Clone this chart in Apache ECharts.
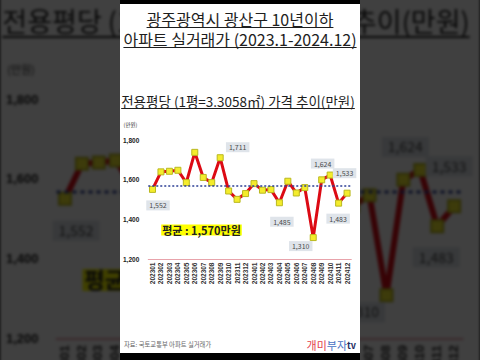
<!DOCTYPE html>
<html><head><meta charset="utf-8">
<script src="https://cdn.jsdelivr.net/npm/echarts@6/dist/echarts.min.js"></script>
<style>
html,body{margin:0;padding:0;width:480px;height:360px;overflow:hidden;background:#000;}
#bg{position:absolute;left:120px;top:4px;width:240px;height:349px;transform:scale(2);transform-origin:120px 176px;filter:blur(0.9px) brightness(0.25);}
#strip{position:absolute;left:120px;top:0;width:240px;height:360px;background:#000;}
#panel{position:absolute;left:120px;top:4px;width:240px;height:349px;background:#fff;}
</style></head><body>
<div id="bg"></div><div id="strip"></div><div id="panel"></div>
<script>
const titleLines = ['광주광역시 광산구 10년이하', '아파트 실거래가 (2023.1-2024.12)'];
const subtitle = '전용평당 (1평=3.3058㎡) 가격 추이(만원)';
const unitLabel = '(만원)';
const categories = ['202301','202302','202303','202304','202305','202306','202307','202308','202309','202310','202311','202312',
                    '202401','202402','202403','202404','202405','202406','202407','202408','202409','202410','202411','202412'];
const prices = [1552,1640,1643,1648,1586,1738,1612,1586,1711,1544,1502,1531,1581,1548,1551,1485,1593,1534,1561,1310,1600,1624,1483,1533];
const average = 1570;
const yMin = 1200, yMax = 1800, yStep = 200;
const avgLabelPrefix = '평균 : ';
const avgLabelSuffix = '만원';
const sourceText = '자료: 국토교통부 아파트 실거래가';
const logoParts = ['개미', '부자', 'tv'];

// style: label offsets (px) for annotated points, by index
const labelOffsets = {0:[6,16.5], 8:[18,-10], 15:[3,19.5], 19:[-12,9], 21:[-7,-11], 22:[0,16], 23:[-2,-19.5]};

const FONT = '"Noto Sans CJK KR","Noto Sans",sans-serif';
const fmt = v => Number(v).toLocaleString('en-US');

function textWidth(t, size, weight) {
  const c = document.createElement('canvas').getContext('2d');
  c.font = (weight || 'normal') + ' ' + size + 'px ' + FONT;
  return c.measureText(t).width;
}

function buildOption() {
  const graphics = [];
  const tSize = 16;
  [[titleLines[0], 15, 23.5], [titleLines[1], 35, 43.5]].forEach(([t, y, uy]) => {
    const w = textWidth(t, tSize);
    graphics.push({type:'text', style:{text:t, x:120, y:y, align:'center', verticalAlign:'middle', fontSize:tSize, fontFamily:FONT, fill:'#1e1e1e'}});
    graphics.push({type:'line', shape:{x1:120-w/2, y1:uy, x2:120+w/2, y2:uy}, style:{stroke:'#1e1e1e', lineWidth:1}});
  });
  const sSize = 13.5;
  const sw = textWidth(subtitle, sSize);
  graphics.push({type:'text', style:{text:subtitle, x:118, y:97, align:'center', verticalAlign:'middle', fontSize:sSize, fontFamily:FONT, fill:'#1e1e1e'}});
  graphics.push({type:'line', shape:{x1:118-sw/2, y1:104.5, x2:118+sw/2, y2:104.5}, style:{stroke:'#1e1e1e', lineWidth:1}});
  graphics.push({type:'text', style:{text:unitLabel, x:10.5, y:121, align:'center', verticalAlign:'middle', fontSize:5.5, fontFamily:FONT, fill:'#333'}});
  graphics.push({type:'text', style:{text:avgLabelPrefix + fmt(average) + avgLabelSuffix, x:81.5, y:226, align:'center', verticalAlign:'middle', fontSize:11, fontWeight:'bold', fontFamily:FONT, fill:'#222', backgroundColor:'#ffff00', padding:[0,1]}});
  graphics.push({type:'text', style:{text:sourceText, x:4, y:340, align:'left', verticalAlign:'middle', fontSize:6.3, fontFamily:FONT, fill:'#666'}});
  graphics.push({type:'text', style:{
    text:'{a|' + logoParts[0] + '}{b|' + logoParts[1] + '}{c|' + logoParts[2] + '}',
    x:236, y:341, align:'right', verticalAlign:'middle', fontFamily:FONT,
    rich:{a:{fontSize:11, fill:'#e4414d', fontFamily:FONT}, b:{fontSize:11, fill:'#4a73c4', fontFamily:FONT}, c:{fontSize:9, fontWeight:'bold', fill:'#1d2b5e', fontFamily:FONT}}
  }});

  const data = prices.map((v, i) => {
    const off = labelOffsets[i];
    if (!off) return v;
    return {value:v, label:{show:true, position:[3+off[0], 3+off[1]], align:'center', verticalAlign:'middle',
      formatter: p => fmt(p.value), fontSize:7, fontFamily:FONT, color:'#4a4a4a', backgroundColor:'#dfe4ea', padding:[2,3,1,3]}};
  });

  return {
    backgroundColor:'#ffffff',
    animation:false,
    grid:{left:26, right:8.7, top:136, height:119.5},
    xAxis:{type:'category', data:categories, boundaryGap:true,
      axisLine:{lineStyle:{color:'#e8a3ab', width:1}}, axisTick:{show:false},
      axisLabel:{rotate:90, fontSize:6.5, fontWeight:'bold', color:'#333', margin:3, interval:0, fontFamily:'"Liberation Sans",sans-serif'}},
    yAxis:{type:'value', min:yMin, max:yMax, interval:yStep,
      axisLine:{show:false}, axisTick:{show:false}, splitLine:{show:false},
      axisLabel:{formatter:v => fmt(v), fontSize:6.5, fontWeight:'bold', color:'#222', margin:9, fontFamily:'"Liberation Sans",sans-serif'}},
    series:[{
      type:'line', data:data, symbol:'rect', symbolSize:6,
      lineStyle:{color:'#dc0a14', width:3},
      itemStyle:{color:'#f4ec2c', borderColor:'#b9b820', borderWidth:1},
      label:{show:false},
      markLine:{silent:true, symbol:'none', label:{show:false},
        lineStyle:{color:'#2c3f95', type:[2,2], width:1.5},
        data:[{yAxis:average}]}
    }],
    graphic:{elements:graphics}
  };
}

// blurred, enlarged backdrop copy (decorative) drawn to canvas; the main panel as SVG
echarts.init(document.getElementById('bg'), null, {renderer:'canvas', width:240, height:349, devicePixelRatio:2}).setOption(buildOption());
echarts.init(document.getElementById('panel'), null, {renderer:'svg', width:240, height:349}).setOption(buildOption());
</script>
</body></html>
